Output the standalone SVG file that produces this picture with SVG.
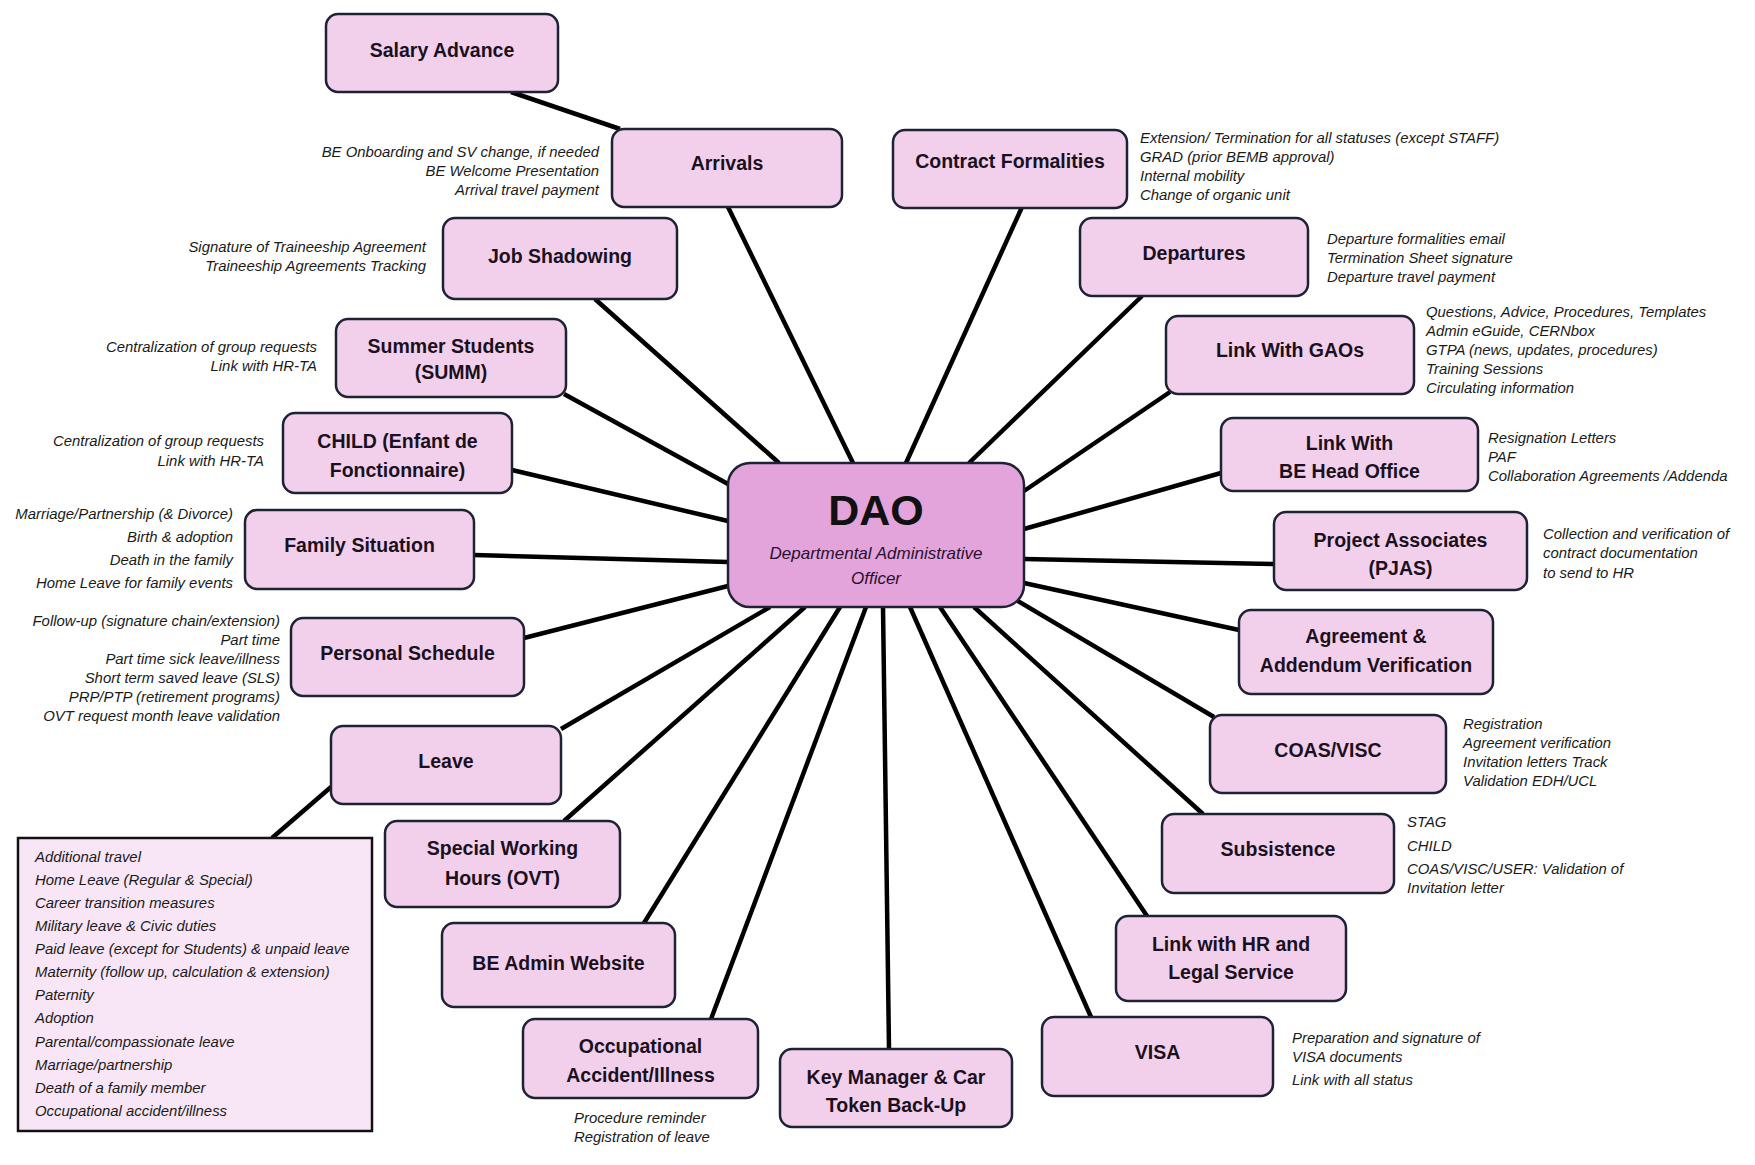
<svg xmlns="http://www.w3.org/2000/svg" width="1755" height="1165" viewBox="0 0 1755 1165">
<style>
.bg{fill:#ffffff}
.node{fill:#f2d0ec;stroke:#1e2235;stroke-width:2.5}
.dao{fill:#e3a3db;stroke:#1e2235;stroke-width:2.5}
.list{fill:#f8e6f6;stroke:#111111;stroke-width:2.5}
.lbl{font-family:"Liberation Sans",Arial,sans-serif;font-weight:bold;font-size:19.5px;fill:#1a1020;text-anchor:middle}
.note{font-family:"Liberation Sans",Arial,sans-serif;font-style:italic;font-size:14.9px;fill:#1a1a1a}
.r{text-anchor:end}
.c{text-anchor:middle}
.conn line{stroke:#000000;stroke-width:4.5;stroke-linecap:butt}
</style>
<rect class="bg" x="0" y="0" width="1755" height="1165"/>
<g id="connectors" class="conn">
<line x1="511" y1="92" x2="620" y2="129"/>
<line x1="728" y1="207" x2="853" y2="463"/>
<line x1="1022" y1="207" x2="906" y2="463"/>
<line x1="595" y1="299" x2="779" y2="463"/>
<line x1="1142" y1="296" x2="969" y2="463"/>
<line x1="564" y1="394" x2="728" y2="484"/>
<line x1="1170" y1="392" x2="1024" y2="491"/>
<line x1="512" y1="470" x2="728" y2="521"/>
<line x1="1221" y1="473" x2="1024" y2="529"/>
<line x1="474" y1="555" x2="728" y2="562"/>
<line x1="1274" y1="564" x2="1024" y2="559"/>
<line x1="524" y1="638" x2="728" y2="586"/>
<line x1="1239" y1="630" x2="1024" y2="583"/>
<line x1="561" y1="729" x2="770" y2="607"/>
<line x1="1214" y1="717" x2="1016" y2="600"/>
<line x1="331" y1="787" x2="272" y2="838"/>
<line x1="564" y1="821" x2="805" y2="607"/>
<line x1="1203" y1="814" x2="974" y2="607"/>
<line x1="644" y1="923" x2="840" y2="607"/>
<line x1="1147" y1="916" x2="940" y2="607"/>
<line x1="711" y1="1019" x2="866" y2="607"/>
<line x1="889" y1="1049" x2="883" y2="607"/>
<line x1="1091" y1="1017" x2="910" y2="607"/>
</g>
<g id="salary-advance"><rect class="node" x="326" y="14" width="232" height="78" rx="12"/><text class="lbl" x="442" y="57">Salary Advance</text></g>
<g id="arrivals"><rect class="node" x="612" y="129" width="230" height="78" rx="12"/><text class="lbl" x="727" y="170">Arrivals</text>
<text class="note r" x="599" y="157">BE Onboarding and SV change, if needed</text>
<text class="note r" x="599" y="176">BE Welcome Presentation</text>
<text class="note r" x="599" y="195">Arrival travel payment</text></g>
<g id="contract-formalities"><rect class="node" x="893" y="130" width="234" height="78" rx="12"/><text class="lbl" x="1010" y="168">Contract Formalities</text>
<text class="note" x="1140" y="143">Extension/ Termination for all statuses (except STAFF)</text>
<text class="note" x="1140" y="162">GRAD (prior BEMB approval)</text>
<text class="note" x="1140" y="181">Internal mobility</text>
<text class="note" x="1140" y="200">Change of organic unit</text></g>
<g id="job-shadowing"><rect class="node" x="443" y="218" width="234" height="81" rx="12"/><text class="lbl" x="560" y="263">Job Shadowing</text>
<text class="note r" x="426" y="252">Signature of Traineeship Agreement</text>
<text class="note r" x="426" y="271">Traineeship Agreements Tracking</text></g>
<g id="departures"><rect class="node" x="1080" y="218" width="228" height="78" rx="12"/><text class="lbl" x="1194" y="260">Departures</text>
<text class="note" x="1327" y="244">Departure formalities email</text>
<text class="note" x="1327" y="263">Termination Sheet signature</text>
<text class="note" x="1327" y="282">Departure travel payment</text></g>
<g id="summer-students"><rect class="node" x="336" y="319" width="230" height="78" rx="12"/><text class="lbl" x="451" y="353">Summer Students</text><text class="lbl" x="451" y="379">(SUMM)</text>
<text class="note r" x="317" y="352">Centralization of group requests</text>
<text class="note r" x="317" y="371">Link with HR-TA</text></g>
<g id="link-with-gaos"><rect class="node" x="1166" y="316" width="248" height="78" rx="12"/><text class="lbl" x="1290" y="357">Link With GAOs</text>
<text class="note" x="1426" y="317">Questions, Advice, Procedures, Templates</text>
<text class="note" x="1426" y="336">Admin eGuide, CERNbox</text>
<text class="note" x="1426" y="355">GTPA (news, updates, procedures)</text>
<text class="note" x="1426" y="374">Training Sessions</text>
<text class="note" x="1426" y="393">Circulating information</text></g>
<g id="child"><rect class="node" x="283" y="413" width="229" height="80" rx="12"/><text class="lbl" x="397.5" y="448">CHILD (Enfant de</text><text class="lbl" x="397.5" y="477">Fonctionnaire)</text>
<text class="note r" x="264" y="446">Centralization of group requests</text>
<text class="note r" x="264" y="466">Link with HR-TA</text></g>
<g id="link-be-head-office"><rect class="node" x="1221" y="418" width="257" height="73" rx="12"/><text class="lbl" x="1349.5" y="450">Link With</text><text class="lbl" x="1349.5" y="478">BE Head Office</text>
<text class="note" x="1488" y="443">Resignation Letters</text>
<text class="note" x="1488" y="462">PAF</text>
<text class="note" x="1488" y="481">Collaboration Agreements /Addenda</text></g>
<g id="dao"><rect class="dao" x="728" y="463" width="296" height="144" rx="22"/>
<text x="876" y="525" style="font-family:'Liberation Sans',Arial,sans-serif;font-weight:bold;font-size:43px;fill:#111111;text-anchor:middle">DAO</text>
<text x="876" y="559" style="font-family:'Liberation Sans',Arial,sans-serif;font-style:italic;font-size:17px;fill:#2a1030;text-anchor:middle">Departmental Administrative</text>
<text x="876" y="584" style="font-family:'Liberation Sans',Arial,sans-serif;font-style:italic;font-size:17px;fill:#2a1030;text-anchor:middle">Officer</text></g>
<g id="family-situation"><rect class="node" x="245" y="510" width="229" height="79" rx="12"/><text class="lbl" x="359.5" y="552">Family Situation</text>
<text class="note r" x="233" y="519">Marriage/Partnership (&amp; Divorce)</text>
<text class="note r" x="233" y="542">Birth &amp; adoption</text>
<text class="note r" x="233" y="565">Death in the family</text>
<text class="note r" x="233" y="588">Home Leave for family events</text></g>
<g id="project-associates"><rect class="node" x="1274" y="512" width="253" height="78" rx="12"/><text class="lbl" x="1400.5" y="547">Project Associates</text><text class="lbl" x="1400.5" y="575">(PJAS)</text>
<text class="note" x="1543" y="539">Collection and verification of</text>
<text class="note" x="1543" y="558">contract documentation</text>
<text class="note" x="1543" y="578">to send to HR</text></g>
<g id="personal-schedule"><rect class="node" x="291" y="618" width="233" height="78" rx="12"/><text class="lbl" x="407.5" y="660">Personal Schedule</text>
<text class="note r" x="280" y="626">Follow-up (signature chain/extension)</text>
<text class="note r" x="280" y="645">Part time</text>
<text class="note r" x="280" y="664">Part time sick leave/illness</text>
<text class="note r" x="280" y="683">Short term saved leave (SLS)</text>
<text class="note r" x="280" y="702">PRP/PTP (retirement programs)</text>
<text class="note r" x="280" y="721">OVT request month leave validation</text></g>
<g id="agreement-addendum"><rect class="node" x="1239" y="610" width="254" height="84" rx="12"/><text class="lbl" x="1366" y="643">Agreement &amp;</text><text class="lbl" x="1366" y="672">Addendum Verification</text></g>
<g id="leave"><rect class="node" x="331" y="726" width="230" height="78" rx="12"/><text class="lbl" x="446" y="768">Leave</text></g>
<g id="coas-visc"><rect class="node" x="1210" y="715" width="236" height="78" rx="12"/><text class="lbl" x="1328" y="757">COAS/VISC</text>
<text class="note" x="1463" y="729">Registration</text>
<text class="note" x="1463" y="748">Agreement verification</text>
<text class="note" x="1463" y="767">Invitation letters Track</text>
<text class="note" x="1463" y="786">Validation EDH/UCL</text></g>
<g id="leave-list"><rect class="list" x="18" y="838" width="354" height="293"/>
<text class="note" x="35" y="862">Additional travel</text>
<text class="note" x="35" y="885">Home Leave (Regular &amp; Special)</text>
<text class="note" x="35" y="908">Career transition measures</text>
<text class="note" x="35" y="931">Military leave &amp; Civic duties</text>
<text class="note" x="35" y="954">Paid leave (except for Students) &amp; unpaid leave</text>
<text class="note" x="35" y="977">Maternity (follow up, calculation &amp; extension)</text>
<text class="note" x="35" y="1000">Paternity</text>
<text class="note" x="35" y="1023">Adoption</text>
<text class="note" x="35" y="1047">Parental/compassionate leave</text>
<text class="note" x="35" y="1070">Marriage/partnership</text>
<text class="note" x="35" y="1093">Death of a family member</text>
<text class="note" x="35" y="1116">Occupational accident/illness</text></g>
<g id="special-working-hours"><rect class="node" x="385" y="821" width="235" height="86" rx="12"/><text class="lbl" x="502.5" y="855">Special Working</text><text class="lbl" x="502.5" y="885">Hours (OVT)</text></g>
<g id="subsistence"><rect class="node" x="1162" y="814" width="232" height="79" rx="12"/><text class="lbl" x="1278" y="856">Subsistence</text>
<text class="note" x="1407" y="827">STAG</text>
<text class="note" x="1407" y="851">CHILD</text>
<text class="note" x="1407" y="874">COAS/VISC/USER: Validation of</text>
<text class="note" x="1407" y="893">Invitation letter</text></g>
<g id="be-admin-website"><rect class="node" x="442" y="923" width="233" height="84" rx="12"/><text class="lbl" x="558.5" y="970">BE Admin Website</text></g>
<g id="link-hr-legal"><rect class="node" x="1116" y="916" width="230" height="85" rx="12"/><text class="lbl" x="1231" y="951">Link with HR and</text><text class="lbl" x="1231" y="979">Legal Service</text></g>
<g id="occupational-accident"><rect class="node" x="523" y="1019" width="235" height="79" rx="12"/><text class="lbl" x="640.5" y="1053">Occupational</text><text class="lbl" x="640.5" y="1082">Accident/Illness</text>
<text class="note" x="574" y="1123">Procedure reminder</text>
<text class="note" x="574" y="1142">Registration of leave</text></g>
<g id="key-manager"><rect class="node" x="780" y="1049" width="232" height="78" rx="12"/><text class="lbl" x="896" y="1084">Key Manager &amp; Car</text><text class="lbl" x="896" y="1112">Token Back-Up</text></g>
<g id="visa"><rect class="node" x="1042" y="1017" width="231" height="79" rx="12"/><text class="lbl" x="1157.5" y="1059">VISA</text>
<text class="note" x="1292" y="1043">Preparation and signature of</text>
<text class="note" x="1292" y="1062">VISA documents</text>
<text class="note" x="1292" y="1085">Link with all status</text></g>
</svg>
